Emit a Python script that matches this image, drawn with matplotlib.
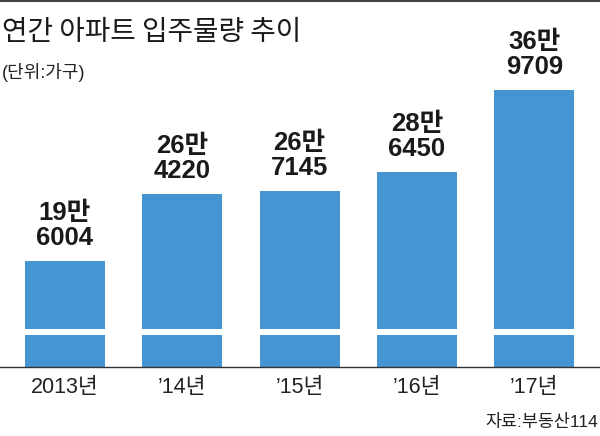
import matplotlib
matplotlib.use("Agg")
import matplotlib.pyplot as plt
from matplotlib.patches import Rectangle
from matplotlib.lines import Line2D

years = ["2013년", "’14년", "’15년", "’16년", "’17년"]
values = [196004, 264220, 267145, 286450, 369709]
labels = ["19만\n6004", "26만\n4220", "26만\n7145", "28만\n6450", "36만\n9709"]

title = "연간 아파트 입주물량 추이"
unit = "(단위:가구)"
source = "자료:부동산114"

BLUE = "#4495D1"
LATIN = ["Liberation Sans", "Noto Sans CJK KR", "DejaVu Sans"]
CJK = ["Noto Sans CJK KR", "DejaVu Sans"]

W, H = 600, 436
fig = plt.figure(figsize=(W / 100, H / 100), dpi=100)
fig.patch.set_facecolor("white")

ax_bottom_px, ax_top_px = 367, 60
ax = fig.add_axes([0, (H - ax_bottom_px) / H, 1, (ax_bottom_px - ax_top_px) / H])

x = list(range(len(values)))
ax.bar(x, values, width=0.682, color=BLUE, zorder=2)
ax.set_xlim(-0.554, 4.561)
ax.set_ylim(88300, 88300 + (ax_bottom_px - ax_top_px) / 0.984 * 1000)

for xi, v, lab in zip(x, values, labels):
    ax.annotate(lab, (xi, v), xytext=(0, 8), textcoords="offset points",
                ha="center", va="bottom", fontsize=18.5, fontweight="bold",
                family=LATIN, color="#1a1a1a", linespacing=1.05)

# axis break band
ax.add_patch(Rectangle((0, 0.104), 1, 0.021, transform=ax.transAxes,
                       facecolor="white", edgecolor="none", zorder=3))

for s in ["top", "right", "left"]:
    ax.spines[s].set_visible(False)
ax.spines["bottom"].set_color("#333333")
ax.spines["bottom"].set_linewidth(1.0)
ax.spines["bottom"].set_zorder(4)
ax.set_yticks([])
ax.set_xticks(x)
ax.set_xticklabels(years, family=LATIN, fontsize=15.5, color="#222222")
ax.tick_params(axis="x", length=0, pad=7)
ax.set_facecolor("none")

fig.text(2 / W, (H - 40) / H, title, family=CJK, fontsize=20,
         color="#1a1a1a", ha="left", va="baseline")
fig.text(2 / W, (H - 78) / H, unit, family=LATIN, fontsize=13,
         color="#222222", ha="left", va="baseline")
fig.text(598 / W, 9 / H, source, family=LATIN, fontsize=12.5,
         color="#222222", ha="right", va="baseline")

fig.add_artist(Line2D([0, 1], [1 - 0.6 / H, 1 - 0.6 / H], transform=fig.transFigure,
                      color="#444444", linewidth=1.5))

fig.savefig("out.png", dpi=100, facecolor="white")
